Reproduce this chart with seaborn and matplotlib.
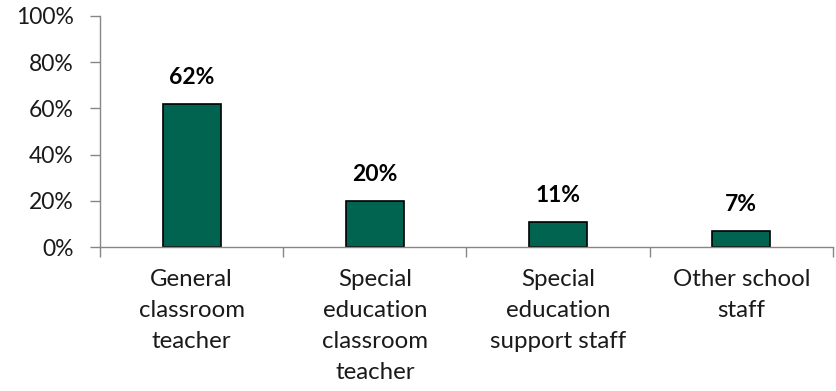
import matplotlib
matplotlib.use("Agg")
import matplotlib.pyplot as plt
import seaborn as sns
import pandas as pd
from matplotlib.ticker import FixedLocator

categories = ["General\nclassroom\nteacher", "Special\neducation\nclassroom\nteacher",
              "Special\neducation\nsupport staff", "Other school\nstaff"]
values = [62, 20, 11, 7]
value_labels = ["62%", "20%", "11%", "7%"]
y_ticks = [0, 20, 40, 60, 80, 100]
y_tick_labels = ["0%", "20%", "40%", "60%", "80%", "100%"]

sns.set_theme(style="white")
plt.rcParams['font.family'] = ['Lato', 'DejaVu Sans']

df = pd.DataFrame({"cat": categories, "val": values})
fig = plt.figure(figsize=(8.37, 3.91), dpi=100)
ax = fig.add_axes([100/837, 1-247/391, 733/837, 231/391])
sns.barplot(data=df, x="cat", y="val", color="#006450", saturation=1,
            width=0.317, edgecolor="black", linewidth=1.2, ax=ax)
ax.set_xlim(-0.5, len(categories)-0.5)
ax.set_ylim(0, 100)
ax.set_yticks(y_ticks)
ax.set_yticklabels(y_tick_labels, fontsize=16.5, color="#1a1a1a")
ax.set_xlabel("")
ax.set_ylabel("")
ax.set_xticks(range(len(categories)))
ax.set_xticklabels(categories, fontsize=17.3, linespacing=1.58, va="top", color="#1a1a1a")
ax.tick_params(axis="x", length=0, pad=16)
ax.xaxis.set_minor_locator(FixedLocator([i-0.5 for i in range(len(categories)+1)]))
ax.tick_params(axis="x", which="minor", length=7, color="#868686", width=1, direction="out", bottom=True)
ax.tick_params(axis="y", length=7, color="#868686", width=1, direction="out", left=True, pad=12)
for s in ["top", "right"]:
    ax.spines[s].set_visible(False)
for s in ["left", "bottom"]:
    ax.spines[s].set_color("#868686")
    ax.spines[s].set_linewidth(1)
for i, (v, lab) in enumerate(zip(values, value_labels)):
    ax.text(i, v + 11.5, lab, ha="center", va="center", fontsize=16.5, fontweight="bold", color="black")

fig.savefig("out.png", dpi=100)
